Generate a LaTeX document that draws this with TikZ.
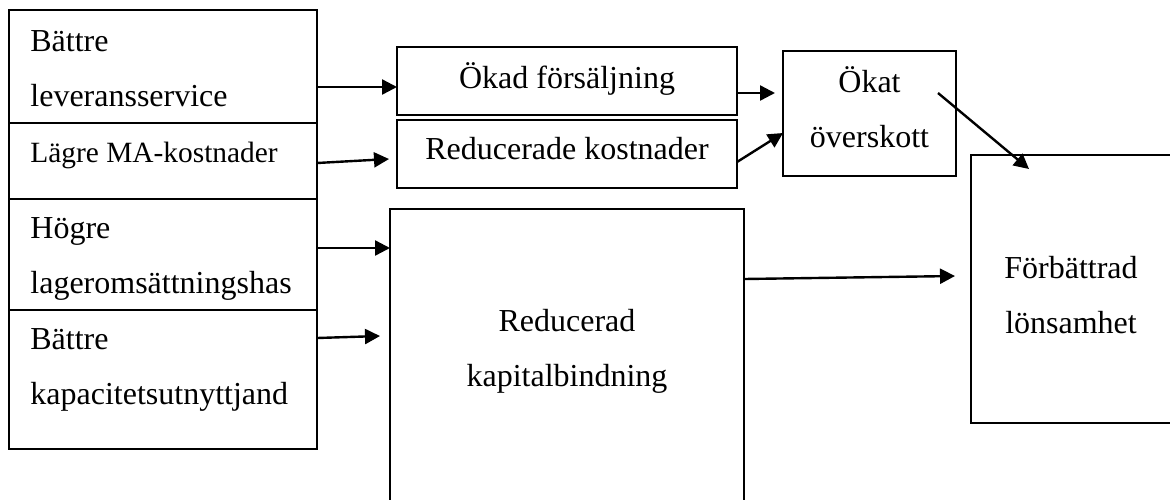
\documentclass[tikz,border=0pt]{standalone}
\usepackage{fontspec}
\setmainfont{Liberation Serif}
\usetikzlibrary{arrows.meta,calc}

\tikzset{
	box/.style={draw, line width=1pt, inner sep=0pt, outer sep=0pt, anchor=north west},
	wh/.style 2 args={minimum width=#1*0.5pt, minimum height=#2*0.5pt},
	txt/.style={inner sep=0pt, anchor=base, align=center, font=\fontsize{16}{27.5}\selectfont},
	txtl/.style={txt, anchor=base west, align=left},
	link/.style={-{Triangle[length=7.5pt,width=7.5pt]}, line width=1.2pt},
}

\begin{document}
\begin{tikzpicture}[x=0.5pt, y=-0.5pt]
			%%%%% START %%%%%
			\useasboundingbox (0,0) rectangle (1170,499);
			\clip (0,0) rectangle (1170,499);
			
			% left column
			\node[box, wh={308}{113}] (lev) at (9,10) {};
			\node[box, wh={308}{76}] (lagre) at (lev.south west) {};
			\node[box, wh={308}{111}] (hogre) at (lagre.south west) {};
			\node[box, wh={308}{139}] (kap) at (hogre.south west) {};
			
			% (base = last line of a two-line node)
			\node[txtl] (levtxt) at ($(lev.north west)+(21,96)$) {Bättre\\leveransservice};
			\node[txtl, font=\fontsize{14.7}{20}\selectfont] (lagretxt) at ($(lagre.north west)+(21,39)$) {Lägre MA-kostnader};
			\node[txtl] (hogretxt) at ($(hogre.north west)+(21,94)$) {Högre\\lageromsättningshas};
			\node[txtl] (kaptxt) at ($(kap.north west)+(21,94)$) {Bättre\\kapacitetsutnyttjand};
			
			% middle
			\node[box, wh={340}{68}] (okad) at (397,47) {};
			\node[box, wh={340}{68}] (redk) at (397,120) {};
			\node[box, wh={354}{320}] (kapb) at (390,209) {};
			
			\node[txt] (okadtxt) at ($(okad.north)+(0,41)$) {Ökad försäljning};
			\node[txt] (redktxt) at ($(redk.north)+(0,39)$) {Reducerade kostnader};
			\node[txt] (kapbtxt) at ($(kapb.north)+(0,177)$) {Reducerad\\kapitalbindning};
			
			% right
			\node[box, wh={173}{125}] (okat) at (783,51) {};
			\node[box, wh={230}{268}] (forb) at (971,155) {};
			
			\node[txt] (okattxt) at ($(okat.north)+(0,96)$) {Ökat\\överskott};
			\node[txt] (forbtxt) at ($(forb.north west)+(100,178)$) {Förbättrad\\lönsamhet};
			
			% arrows
			\draw[link] ($(lev.south east)+(0,-36)$) -- ($(okad.west)+(0,6)$);
			\draw[link] ($(lagre.east)+(0,2)$) -- ($(redk.west)+(-8,5)$);
			\draw[link] ($(hogre.east)+(0,-6.5)$) -- ($(kapb.north west)+(0,39)$);
			\draw[link] ($(kap.north east)+(0,28)$) -- ($(kapb.north west)+(-10,127)$);
			\draw[link] ($(okad.east)+(0,12)$) -- ($(okat.west)+(-8,-20.5)$);
			\draw[link] ($(redk.east)+(0,8)$) -- ($(okat.west)+(0,19.5)$);
			\draw[link] ($(okat.north east)+(-18,42)$) -- ($(forb.north west)+(58,14)$);
			\draw[link] ($(kapb.north east)+(0,70)$) -- ($(forb.north west)+(-16,121)$);
			
			%%%%% END %%%%%
\end{tikzpicture}
\end{document}
